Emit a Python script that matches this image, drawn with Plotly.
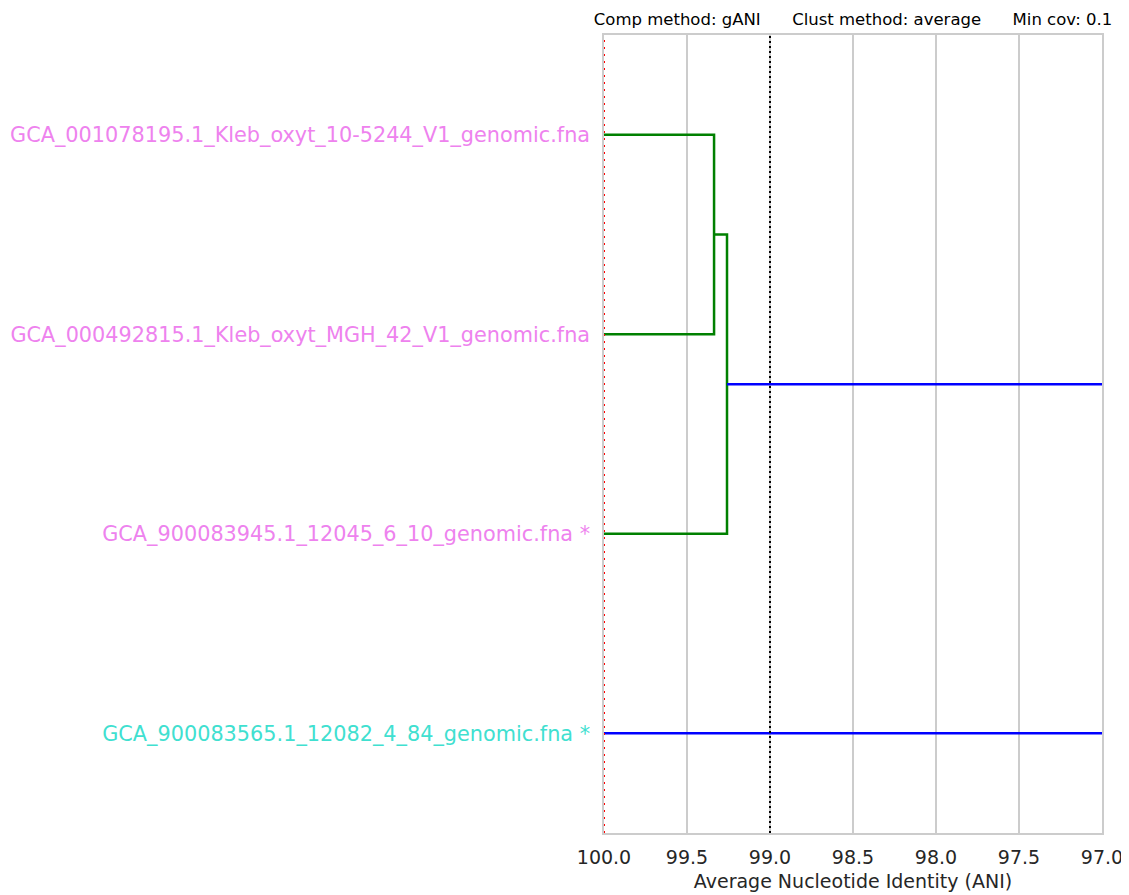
import plotly.graph_objects as go

# ---- data ----
labels = [
    "GCA_001078195.1_Kleb_oxyt_10-5244_V1_genomic.fna",
    "GCA_000492815.1_Kleb_oxyt_MGH_42_V1_genomic.fna",
    "GCA_900083945.1_12045_6_10_genomic.fna *",
    "GCA_900083565.1_12082_4_84_genomic.fna *",
]
label_colors = ["violet", "violet", "violet", "turquoise"]
leaf_pos = [5, 15, 25, 35]
merge_ani = [99.337, 99.259, 90.0]
merge_colors = ["green", "green", "blue"]
x_ticks = [100.0, 99.5, 99.0, 98.5, 98.0, 97.5, 97.0]
ani_threshold = 99.0
title_text = "Comp method: gANI&nbsp;&nbsp;&nbsp;&nbsp;&nbsp;&nbsp;Clust method: average&nbsp;&nbsp;&nbsp;&nbsp;&nbsp;&nbsp;Min cov: 0.1"

fig = go.Figure()

c1_y = (leaf_pos[0] + leaf_pos[1]) / 2
c2_y = (c1_y + leaf_pos[2]) / 2
links = [
    ([100.0, merge_ani[0], merge_ani[0], 100.0], [leaf_pos[0], leaf_pos[0], leaf_pos[1], leaf_pos[1]]),
    ([merge_ani[0], merge_ani[1], merge_ani[1], 100.0], [c1_y, c1_y, leaf_pos[2], leaf_pos[2]]),
    ([merge_ani[1], merge_ani[2], merge_ani[2], 100.0], [c2_y, c2_y, leaf_pos[3], leaf_pos[3]]),
]
for (xs, ys), col in zip(links, merge_colors):
    fig.add_trace(go.Scatter(x=xs, y=ys, mode="lines", line=dict(color=col, width=2.5),
                             showlegend=False, hoverinfo="skip", cliponaxis=True))

fig.add_vline(x=100.0, line=dict(color="red", width=2, dash="2px,5px"))
fig.add_vline(x=ani_threshold, line=dict(color="black", width=2, dash="2px,3px"))

ticktext = [f'<span style="color:{c}">{t}</span>' for t, c in zip(labels, label_colors)]

fig.update_layout(
    width=1121, height=887,
    margin=dict(l=596, r=27, t=27, b=62, autoexpand=False),
    paper_bgcolor="white", plot_bgcolor="white",
    font=dict(family="DejaVu Sans", color="#262626"),
    title=dict(text=title_text, x=0.5, xref="paper", xanchor="center",
               y=1, yref="paper", yanchor="bottom", pad=dict(b=10),
               font=dict(size=16.5, color="black")),
    xaxis=dict(range=[100.0, 97.0], tickvals=x_ticks,
               ticktext=[f"{v:.1f}" for v in x_ticks],
               showgrid=True, gridcolor="#cccccc", gridwidth=1.5,
               zeroline=False, showline=True, linecolor="#cccccc", linewidth=1.5,
               mirror=True, ticks="", tickfont=dict(size=19), automargin=False,
               ticklabelstandoff=6,
               title=dict(text="Average Nucleotide Identity (ANI)", font=dict(size=19), standoff=8)),
    yaxis=dict(range=[40, 0], tickvals=leaf_pos, ticktext=ticktext,
               showgrid=False, zeroline=False, showline=True, linecolor="#cccccc",
               linewidth=1.5, mirror=True, ticks="", tickfont=dict(size=20.8),
               ticklabelstandoff=8, automargin=False),
)

fig.write_html("out.html")
